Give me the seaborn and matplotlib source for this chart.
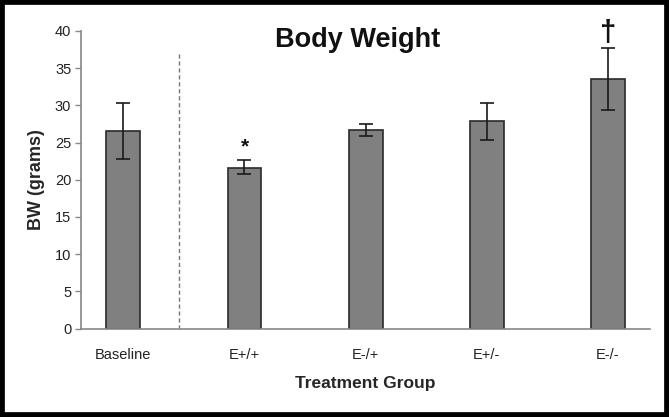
import matplotlib
matplotlib.use("Agg")
import matplotlib.pyplot as plt
import seaborn as sns
import pandas as pd
from matplotlib.patches import Rectangle

groups = ["Baseline", "E+/+", "E-/+", "E+/-", "E-/-"]
bw_mean = [26.5, 21.6, 26.7, 27.9, 33.5]
bw_err_low = [3.7, 0.8, 0.8, 2.6, 4.1]
bw_err_high = [3.8, 1.0, 0.8, 2.4, 4.2]
marks = ["", "*", "", "", "\u2020"]

df = pd.DataFrame({"group": groups, "bw": bw_mean})

sns.set_style("white")
plt.rcParams["font.family"] = ["Liberation Sans", "DejaVu Sans"]

fig = plt.figure(figsize=(6.69, 4.17), dpi=100)
ax = fig.add_axes([0.121, 0.212, 0.851, 0.714])

sns.barplot(data=df, x="group", y="bw", order=groups, color="#808080",
            edgecolor="#2a2a2a", linewidth=1.2, width=0.28, errorbar=None,
            saturation=1, ax=ax)

ax.errorbar(range(len(groups)), bw_mean, yerr=[bw_err_low, bw_err_high],
            fmt="none", ecolor="#1a1a1a", elinewidth=1.2, capsize=5, capthick=1.2)

for i, m in enumerate(marks):
    if m == "*":
        top = bw_mean[i] + bw_err_high[i]
        ax.text(i, top + 0.6, m, ha="center", va="bottom", fontsize=15,
                fontweight="bold", color="#111111")
    elif m:
        top = bw_mean[i] + bw_err_high[i]
        ax.text(i, top + 0.1, m, ha="center", va="bottom", fontsize=21,
                fontweight="bold", color="#111111", clip_on=False)

# separator between baseline and treatment groups
ax.plot([0.46, 0.46], [0, 37.2], ls=(0, (3, 2)), color="#777777", lw=1)

ax.set_xlim(-0.35, 4.35)
ax.set_ylim(0, 40)
ax.set_yticks(range(0, 41, 5))
ax.tick_params(axis="y", direction="out", length=4, width=1, color="#888888",
               labelsize=10.5, labelcolor="#222222", pad=3, left=True)
ax.tick_params(axis="x", length=0, labelsize=10.5, labelcolor="#222222", pad=14)

for side in ["top", "right"]:
    ax.spines[side].set_visible(False)
for side in ["left", "bottom"]:
    ax.spines[side].set_color("#888888")
    ax.spines[side].set_linewidth(1.2)

ax.set_xlabel("Treatment Group", fontsize=12.5, fontweight="bold", labelpad=10)
ax.set_ylabel("BW (grams)", fontsize=13, fontweight="bold", labelpad=7)

fig.text(0.534, 0.905, "Body Weight", ha="center", va="center",
         fontsize=19.5, fontweight="bold", color="#111111")

fig.patches.append(Rectangle((0, 0), 1, 1, transform=fig.transFigure, fill=False,
                             edgecolor="black", linewidth=7, zorder=10))

fig.savefig("out.png", dpi=100)
